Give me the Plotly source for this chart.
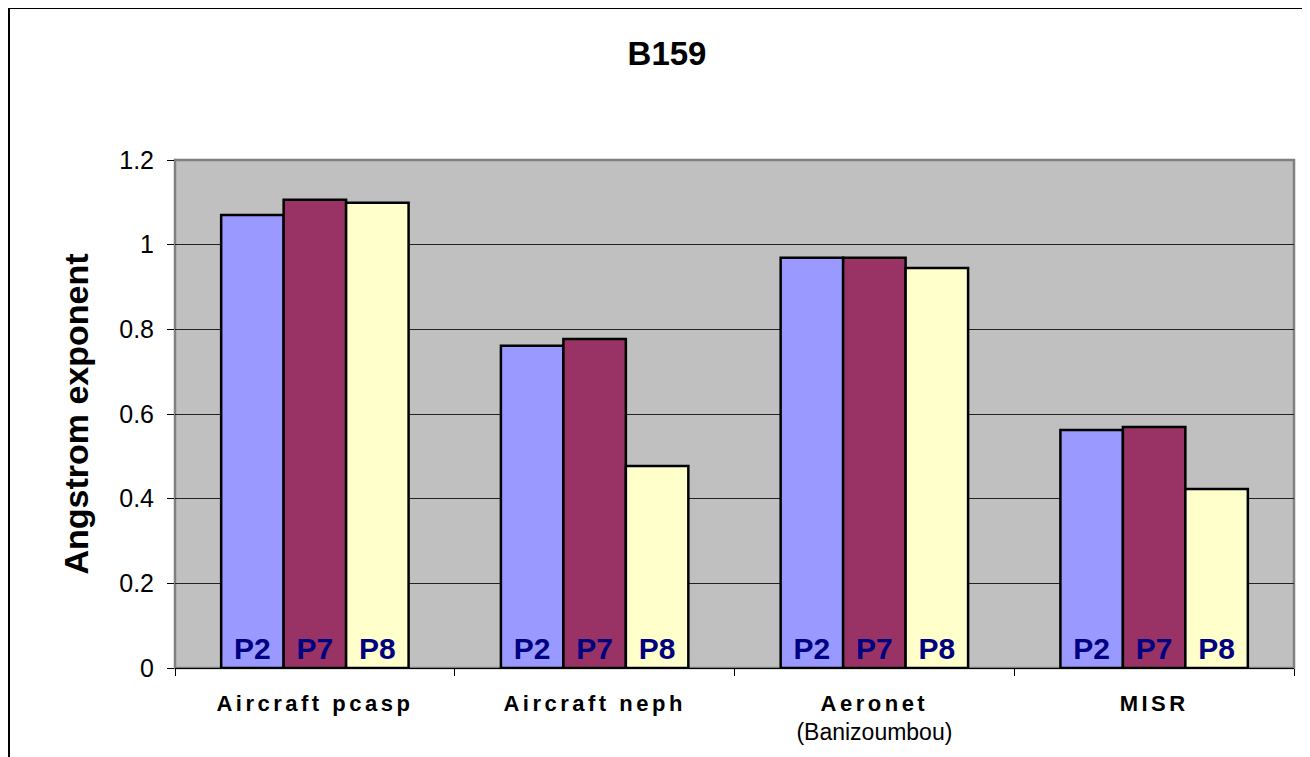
import plotly.graph_objects as go

# B159 Angstrom exponent comparison
categories = ["Aircraft pcasp", "Aircraft neph", "Aeronet", "MISR"]
tick_labels = [
    "<b><span style='letter-spacing:3.5px'>Aircraft pcasp</span></b>",
    "<b><span style='letter-spacing:3.5px'>Aircraft neph</span></b>",
    "<b><span style='letter-spacing:3.5px'>Aeronet</span></b><br><span style='font-size:23px'>(Banizoumbou)</span>",
    "<b><span style='letter-spacing:3.5px'>MISR</span></b>",
]
series_names = ["P2", "P7", "P8"]
p2 = [1.07, 0.761, 0.969, 0.562]
p7 = [1.106, 0.777, 0.969, 0.569]
p8 = [1.099, 0.477, 0.945, 0.423]
colors = ["#9999FF", "#993366", "#FFFFCC"]

# page has an 8px body margin, so the figure is a bit smaller than the window
W, H = 1302, 749
L, R, T, B = 167, 16, 152, 89
pw, ph = W - L - R, H - T - B

fig = go.Figure()
for name, vals, col in zip(series_names, [p2, p7, p8], colors):
    fig.add_trace(go.Bar(
        name=name, x=categories, y=vals,
        marker=dict(color=col, line=dict(color="black", width=2.5)),
        text=[name] * len(vals), textposition="inside",
        insidetextanchor="start", textangle=0,
        insidetextfont=dict(family="Arial, Liberation Sans", size=30, color="#000080"),
        texttemplate="<b>%{text}</b>",
        hoverinfo="x+y",
    ))


def px_x(v):
    return (v - L) / pw


def px_y(v):
    return (H - B - v) / ph


fig.update_layout(
    width=W, height=H,
    margin=dict(l=L, r=R, t=T, b=B),
    barmode="group", bargap=0.33, bargroupgap=0,
    showlegend=False,
    plot_bgcolor="#C0C0C0", paper_bgcolor="white",
    font=dict(family="Arial, Liberation Sans", color="black"),
    title=dict(text="<b>B159</b>", x=659 / W, xanchor="center", xref="container",
               y=1 - 45 / H, yanchor="middle", yref="container",
               font=dict(size=33, color="black")),
    shapes=[
        dict(type="rect", xref="paper", yref="paper", layer="between",
             x0=0, x1=1, y0=0, y1=1, line=dict(color="#808080", width=2.5)),
        dict(type="rect", xref="paper", yref="paper", layer="above",
             x0=px_x(1), x1=px_x(W + 20), y0=px_y(H + 20), y1=px_y(0),
             line=dict(color="black", width=2)),
    ],
)
fig.update_xaxes(
    tickvals=categories, ticktext=tick_labels,
    tickson="boundaries", ticks="outside", ticklen=7, tickcolor="black",
    showline=True, linecolor="black", linewidth=1,
    tickfont=dict(size=22, color="black"), ticklabelstandoff=16,
)
fig.update_yaxes(
    range=[0, 1.2], dtick=0.2, tickformat="~g",
    ticks="outside", ticklen=7, tickcolor="black",
    showgrid=True, gridcolor="#222222", gridwidth=1,
    zeroline=False, showline=False,
    tickfont=dict(size=25, color="black"), ticklabelstandoff=8,
    title=dict(text="<b>Angstrom exponent</b>", font=dict(size=34, color="black"), standoff=20),
)

fig.write_html("out.html")
